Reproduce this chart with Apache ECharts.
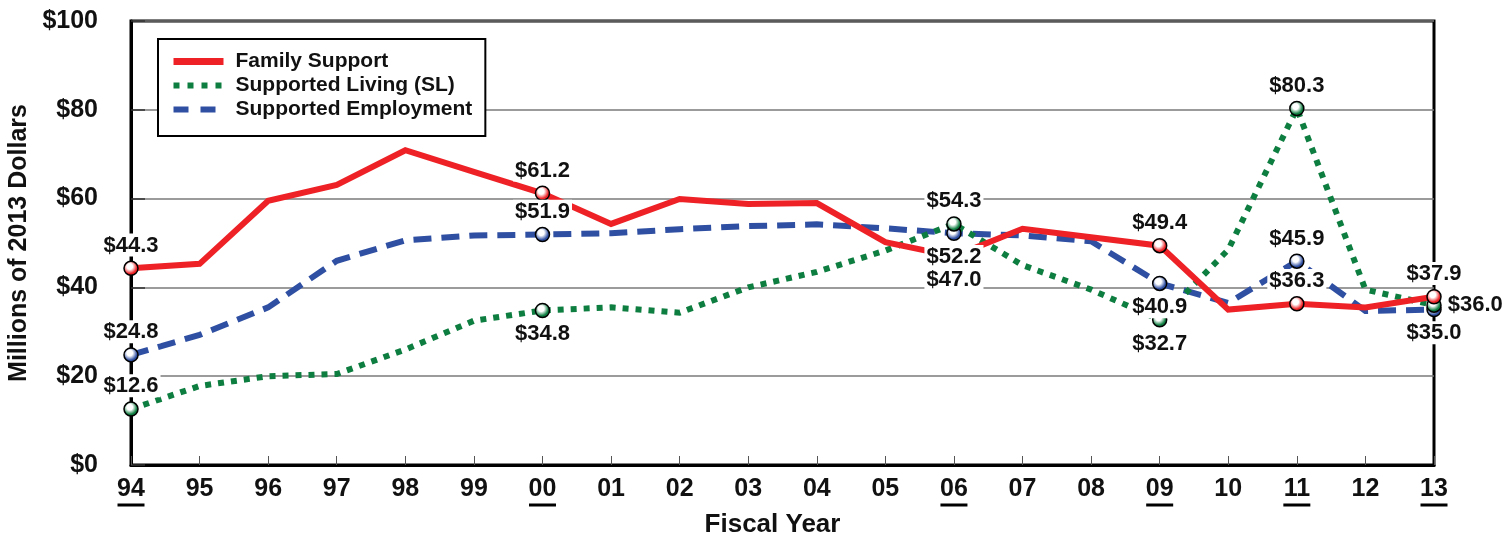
<!DOCTYPE html>
<html><head><meta charset="utf-8">
<script src="https://cdn.jsdelivr.net/npm/echarts@6/dist/echarts.min.js"></script>
<style>html,body{margin:0;padding:0;background:#fff}#c{width:1510px;height:533px}</style>
</head><body><div id="c"></div>
<script>
const years = ['94','95','96','97','98','99','00','01','02','03','04','05','06','07','08','09','10','11','12','13'];
const underlinedYears = ['94','00','06','09','11','13'];
const familySupport = [44.3,45.3,59.5,63.1,70.9,66.0,61.2,54.3,59.9,58.8,59.0,50.2,47.0,53.2,51.3,49.4,35.0,36.3,35.5,37.9];
const supportedLiving = [12.6,17.8,20.0,20.5,26.0,32.5,34.8,35.5,34.3,40.0,43.5,48.3,54.3,45.0,39.5,32.7,48.5,80.3,39.5,36.0];
const supportedEmployment = [24.8,29.3,35.5,46.0,50.6,51.7,51.9,52.2,53.1,53.8,54.2,53.3,52.2,51.7,50.4,40.9,36.5,45.9,34.7,35.0];
const yTicks = [0,20,40,60,80,100];
// labelled points: index -> label side
const fsLabelSide = {0:'top',6:'top',12:'bottom',15:'top',17:'top',19:'top'};
const slLabelSide = {0:'top',6:'bottom',12:'top',15:'bottom',17:'top',19:'right'};
const seLabelSide = {0:'top',6:'top',12:'bottom',15:'bottom',17:'top',19:'bottom'};

const RED = '#EE2226', GREEN = '#0E7D40', BLUE = '#2F4FA2';
const FONT = '"Liberation Sans", Arial, Helvetica, sans-serif';

function ball(color) {
  return new echarts.graphic.RadialGradient(0.42, 0.38, 0.62, [
    {offset: 0, color: '#ffffff'},
    {offset: 0.3, color: '#ffffff'},
    {offset: 0.75, color: color},
    {offset: 1, color: color}
  ]);
}
function buildData(values, sides) {
  return values.map((v, i) => sides[i] ? {
    value: v, symbol: 'circle', symbolSize: 14,
    label: {show: true, position: sides[i]}
  } : v);
}
const labelCommon = {
  show: false,
  formatter: p => '$' + Number(p.value).toFixed(1),
  fontFamily: FONT, fontSize: 22, fontWeight: 'bold', color: '#111',
  backgroundColor: '#fff', padding: [1, 2, 0, 2], distance: 4
};
function mkSeries(name, values, sides, color, lineType) {
  return {
    name, type: 'line', data: buildData(values, sides),
    symbol: 'none', showSymbol: true, z: 2,
    lineStyle: {color, width: 6, type: lineType, cap: 'butt', join: 'miter'},
    itemStyle: {color: ball(color), borderColor: '#000', borderWidth: 1.5},
    label: labelCommon,
    emphasis: {disabled: true},
    animation: false
  };
}

const chart = echarts.init(document.getElementById('c'), null, {renderer: 'canvas'});
chart.setOption({
  backgroundColor: '#fff',
  animation: false,
  grid: {left: 131, right: 76, top: 21, bottom: 68, show: true, borderColor: '#000', borderWidth: 3,
         backgroundColor: 'transparent', outerBoundsMode: 'none', containLabel: false},
  legend: {
    orient: 'vertical', left: 158, top: 39,
    padding: [12, 13, 16, 12], itemGap: 3, itemWidth: 50, itemHeight: 14,
    borderColor: '#000', borderWidth: 2, backgroundColor: '#fff',
    textStyle: {fontFamily: FONT, fontSize: 21, fontWeight: 'bold', color: '#111', padding: [0, 0, 0, 7]},
    data: [
      {name: 'Family Support', itemStyle: {opacity: 0}, lineStyle: {width: 7, type: 'solid', color: RED}},
      {name: 'Supported Living (SL)', itemStyle: {opacity: 0}, lineStyle: {width: 6, type: [6, 8], color: GREEN}},
      {name: 'Supported Employment', itemStyle: {opacity: 0}, lineStyle: {width: 6, type: [15, 12], color: BLUE}}
    ],
    selectedMode: false
  },
  xAxis: {
    type: 'category', data: years, boundaryGap: false,
    name: 'Fiscal Year', nameLocation: 'middle', nameGap: 42,
    nameTextStyle: {fontFamily: FONT, fontSize: 26, fontWeight: 'bold', color: '#111', padding: [0, 20, 0, 0]},
    axisLine: {lineStyle: {color: '#000', width: 3}},
    axisTick: {inside: true, length: 9, lineStyle: {color: '#555', width: 1}},
    axisLabel: {
      interval: 0, margin: 12,
      fontFamily: FONT, fontSize: 25, fontWeight: 'bold', color: '#111',
      formatter: v => underlinedYears.includes(v) ? '{u|' + v + '}\n{ul| }' : '{u|' + v + '}',
      rich: {
        u: {fontFamily: FONT, fontSize: 25, fontWeight: 'bold', color: '#111', lineHeight: 25},
        ul: {width: 27, height: 3, backgroundColor: '#000', lineHeight: 6, fontSize: 2}
      }
    },
    splitLine: {show: false}
  },
  yAxis: {
    type: 'value', min: yTicks[0], max: yTicks[yTicks.length - 1], interval: yTicks[1] - yTicks[0],
    name: 'Millions of 2013 Dollars', nameLocation: 'middle', nameRotate: 90, nameGap: 95,
    nameTextStyle: {fontFamily: FONT, fontSize: 25, fontWeight: 'bold', color: '#111'},
    axisLine: {show: true, lineStyle: {color: '#000', width: 3}},
    axisTick: {show: true, inside: true, length: 14, lineStyle: {color: '#333', width: 1.5}},
    axisLabel: {margin: 33, fontFamily: FONT, fontSize: 25, fontWeight: 'bold', color: '#111', formatter: v => '$' + v},
    splitLine: {lineStyle: {color: '#7a7a7a', width: 1.5}}
  },
  series: [
    mkSeries('Supported Employment', supportedEmployment, seLabelSide, BLUE, [18, 10]),
    mkSeries('Supported Living (SL)', supportedLiving, slLabelSide, GREEN, [6, 7]),
    mkSeries('Family Support', familySupport, fsLabelSide, RED, 'solid')
  ]
});
</script></body></html>
